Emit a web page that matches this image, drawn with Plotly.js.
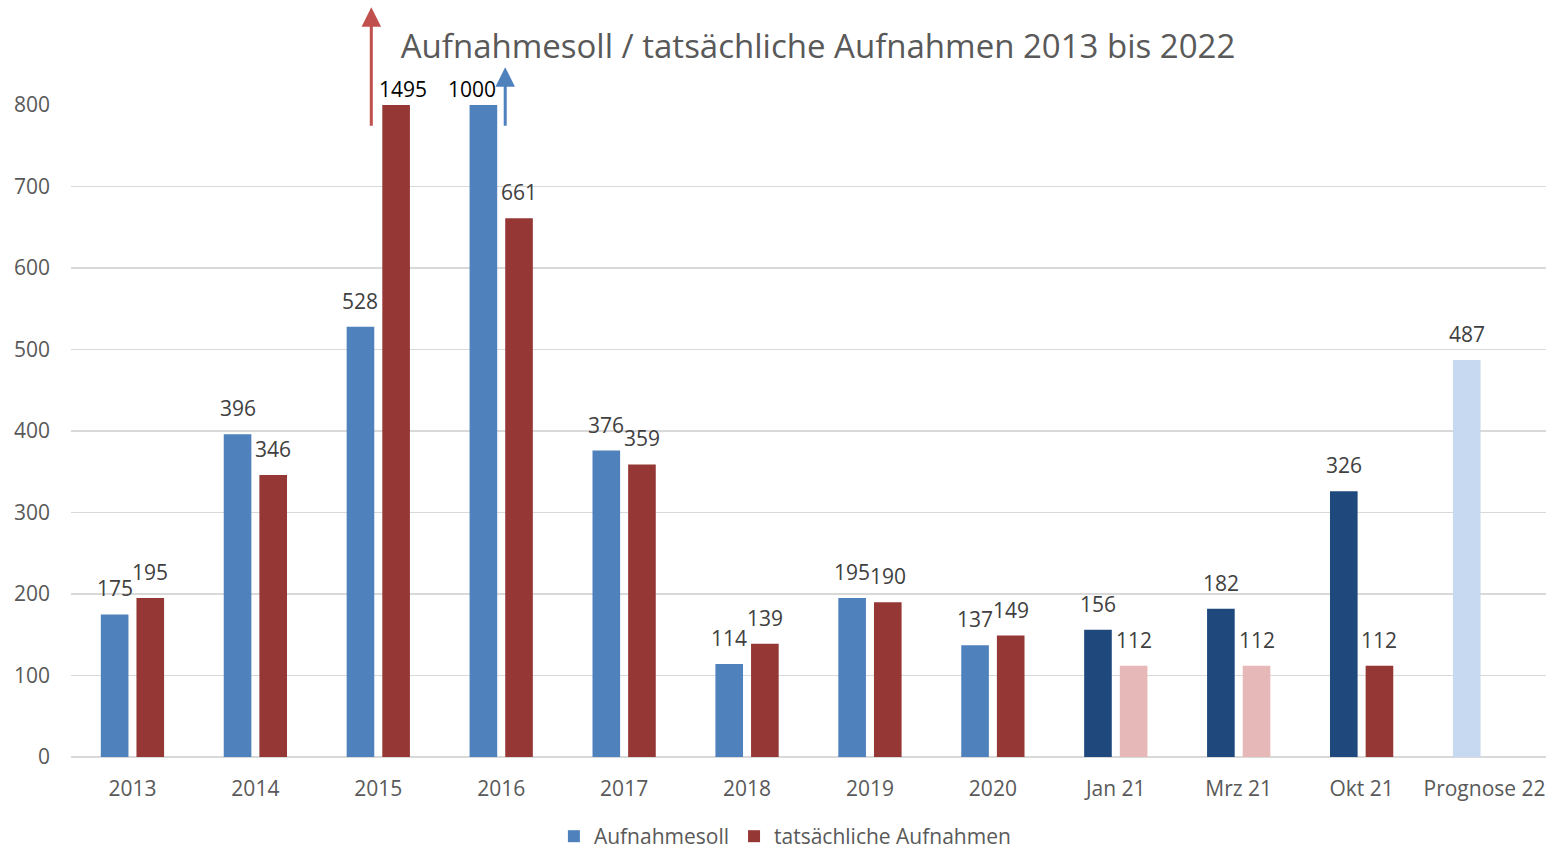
<!DOCTYPE html>
<html>
<head>
<meta charset="utf-8">
<script src="https://cdn.plot.ly/plotly-3.0.1.min.js"></script>
<style>html,body{margin:0;padding:0;background:#fff;}#chart{width:1553px;height:850px;}</style>
</head>
<body>
<div id="chart"></div>
<script>
const categories = ["2013","2014","2015","2016","2017","2018","2019","2020","Jan 21","Mrz 21","Okt 21","Prognose 22"];
const soll = [175, 396, 528, 1000, 376, 114, 195, 137, 156, 182, 326, 487];
const ist = [195, 346, 1495, 661, 359, 139, 190, 149, 112, 112, 112, null];
const sollColors = ["#4F81BD","#4F81BD","#4F81BD","#4F81BD","#4F81BD","#4F81BD","#4F81BD","#4F81BD","#1F497D","#1F497D","#1F497D","#C6D9F1"];
const istColors = ["#953735","#953735","#953735","#953735","#953735","#953735","#953735","#953735","#E6B9B8","#E6B9B8","#953735","#953735"];
const yMax = 800;

const FONT = "'Open Sans', 'DejaVu Sans', sans-serif";

const traces = [
  {type: "bar", name: "Aufnahmesoll", x: categories, y: soll,
   marker: {color: sollColors}, cliponaxis: true, hoverinfo: "x+y"},
  {type: "bar", name: "tatsächliche Aufnahmen", x: categories, y: ist,
   marker: {color: istColors}, cliponaxis: true, hoverinfo: "x+y"}
];

// value labels (x given as category index so numeric-looking names are not read as numbers)
const annotations = [];
function addLabels(vals, barShift, overflowShift) {
  vals.forEach((v, i) => {
    if (v === null) return;
    if (v > yMax) {
      annotations.push({x: i, y: 1, xref: "x", yref: "paper", text: String(v), showarrow: false,
        yanchor: "middle", xshift: overflowShift, yshift: 16, font: {family: FONT, size: 21, color: "#000"}});
    } else {
      annotations.push({x: i, y: v, xref: "x", yref: "y", text: String(v), showarrow: false,
        yanchor: "middle", xshift: barShift, yshift: 26, font: {family: FONT, size: 21, color: "#404040"}});
    }
  });
}
addLabels(soll, -17.8, -29.5);
addLabels(ist, 17.8, 24.5);

// arrows indicating overflow
annotations.push({x: categories.indexOf("2015"), y: 1.150, xref: "x", yref: "paper", axref: "pixel", ayref: "pixel", ax: 0, ay: 120,
  text: "", showarrow: true, arrowhead: 2, arrowsize: 1.3, arrowwidth: 3, arrowcolor: "#C0504D", xshift: -7});
annotations.push({x: categories.indexOf("2016"), y: 1.058, xref: "x", yref: "paper", axref: "pixel", ayref: "pixel", ax: 0, ay: 60,
  text: "", showarrow: true, arrowhead: 2, arrowsize: 1.3, arrowwidth: 3, arrowcolor: "#4F81BD", xshift: 4});

const layout = {
  width: 1553, height: 850,
  margin: {l: 71, r: 7, t: 105, b: 93, autoexpand: false},
  paper_bgcolor: "#fff", plot_bgcolor: "#fff",
  font: {family: FONT, color: "#595959", size: 21},
  title: {text: "Aufnahmesoll / tatsächliche Aufnahmen 2013 bis 2022", font: {family: FONT, size: 33, color: "#595959"},
          x: 818/1553, xanchor: "center", y: 1 - 46/850, yanchor: "middle", xref: "container", yref: "container"},
  barmode: "group", bargap: 0.42, bargroupgap: 0.225,
  xaxis: {type: "category", range: [-0.5, categories.length - 0.5], autorange: false,
          showgrid: false, showline: false, zeroline: false, ticks: "",
          tickfont: {family: FONT, size: 21, color: "#595959"}, ticklabelstandoff: 17, fixedrange: true},
  yaxis: {range: [0, yMax], autorange: false, dtick: 100, tick0: 0, showgrid: true, gridcolor: "#D9D9D9", gridwidth: 1.5,
          zeroline: true, zerolinecolor: "#D9D9D9", zerolinewidth: 1.5, showline: false, ticks: "",
          tickfont: {family: FONT, size: 21, color: "#595959"}, ticklabelstandoff: 20, fixedrange: true},
  showlegend: true,
  legend: {orientation: "h", x: 0.484, xanchor: "center", y: -0.122, yanchor: "middle", yref: "paper",
           font: {family: FONT, size: 21, color: "#595959"}, itemwidth: 30, tracegroupgap: 0},
  annotations: annotations
};

Plotly.newPlot("chart", traces, layout, {displayModeBar: false, staticPlot: true});
</script>
</body>
</html>
